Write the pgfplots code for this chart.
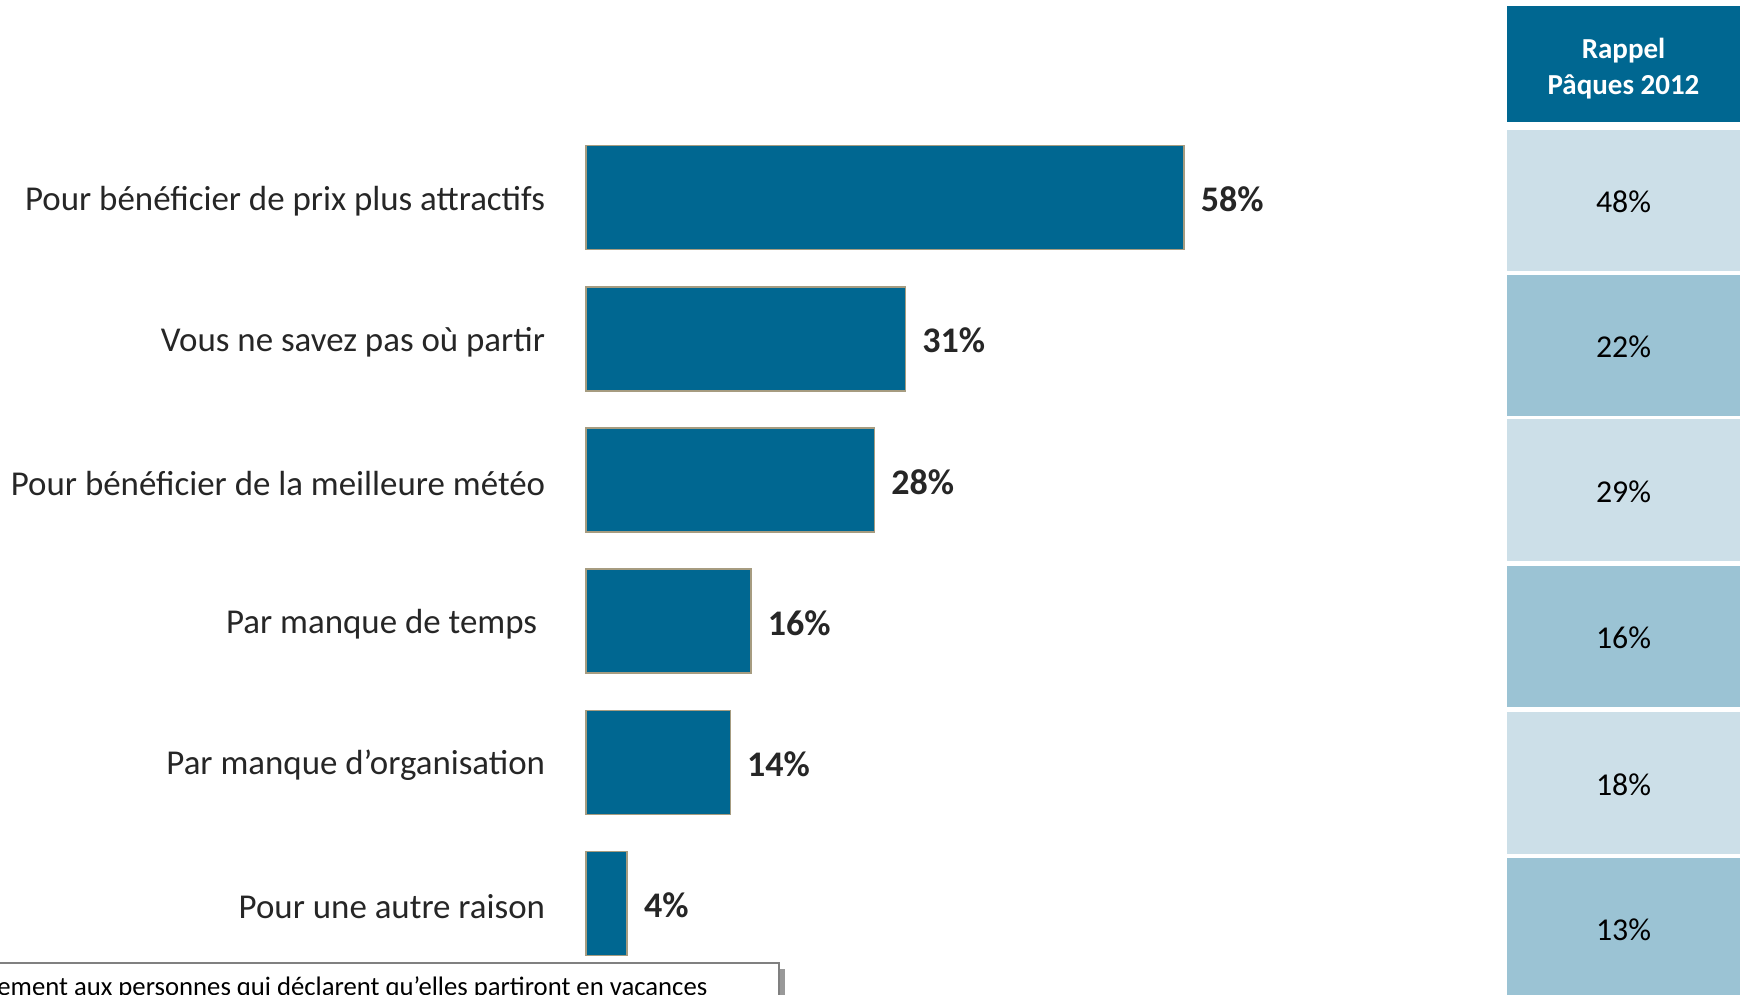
\documentclass[border=0pt]{standalone}
\usepackage{pgfplots}
\pgfplotsset{compat=1.18}
\usepackage{fontspec}
\setmainfont{Carlito}
\definecolor{barblue}{RGB}{0,103,145}
\definecolor{barborder}{RGB}{166,156,128}
\definecolor{celllight}{RGB}{204,223,232}
\definecolor{cellmid}{RGB}{155,195,212}
\definecolor{txt}{RGB}{38,38,38}
\begin{document}
\begin{tikzpicture}
\begin{scope}[x=0.5pt,y=0.5pt]
\clip (0,0) rectangle (1740,995);
\end{scope}
\begin{axis}[
  at={(293pt,0pt)}, anchor=south west,
  scale only axis, width=577pt, height=497.5pt,
  xmin=0, xmax=111.93,
  y dir=reverse, ymin=-1.399, ymax=5.648,
  xbar, bar width=0.7366,
  axis line style={draw=none}, tick style={draw=none},
  xtick=\empty, ytick={0,1,2,3,4,5},
  yticklabels={Pour bénéficier de prix plus attractifs, Vous ne savez pas où partir, Pour bénéficier de la meilleure météo, Par manque de temps\rule{4pt}{0pt}, Par manque d’organisation, Pour une autre raison},
  yticklabel style={font=\fontsize{17.45}{20}\selectfont, text=txt, anchor=east, inner sep=0pt, xshift=-16pt, yshift=-1.6pt},
  point meta=x,
  /pgf/number format/assume math mode=true,
  nodes near coords={\pgfmathprintnumber{\pgfplotspointmeta}\%},
  nodes near coords style={font=\fontsize{18}{20}\selectfont\bfseries, text=txt, anchor=west, inner sep=0pt, xshift=8pt, yshift=-1pt},
  clip=false,
]
\addplot[fill=barblue, draw=barborder, line width=0.8pt] coordinates {(58,0) (31,1) (28,2) (16,3) (14,4) (4,5)};
\end{axis}
\begin{scope}[x=0.5pt,y=0.5pt]
% right panel
\fill[barblue] (1507,995-6) rectangle (1745,995-122);
\node[align=center, font=\fontsize{14.5}{18}\selectfont\bfseries, text=white] at (1623.5,995-69) {Rappel\\Pâques 2012};
\foreach \top/\val/\col in {130/48/celllight, 275/22/cellmid, 419.5/29/celllight, 566/16/cellmid, 712.4/18/celllight, 858/13/cellmid}{
  \fill[\col] (1507,995-\top) rectangle (1745,995-\top-141.5);
  \node[font=\fontsize{15.9}{18}\selectfont, text=black] at (1623.5,995-\top-72) {\val\%};
}
% footnote box
\fill[black!40] (-10,-10) rectangle (785,26);
\filldraw[fill=white, draw=black!50, line width=0.75pt] (-10,-10) rectangle (779,32);
\node[anchor=base west, inner sep=0pt, font=\fontsize{13.35}{15}\selectfont, text=black] at (-3,-1) {ement aux personnes qui déclarent qu’elles partiront en vacances};
\pgfresetboundingbox
\useasboundingbox (0,0) rectangle (1740,995);
\end{scope}
\end{tikzpicture}
\end{document}
